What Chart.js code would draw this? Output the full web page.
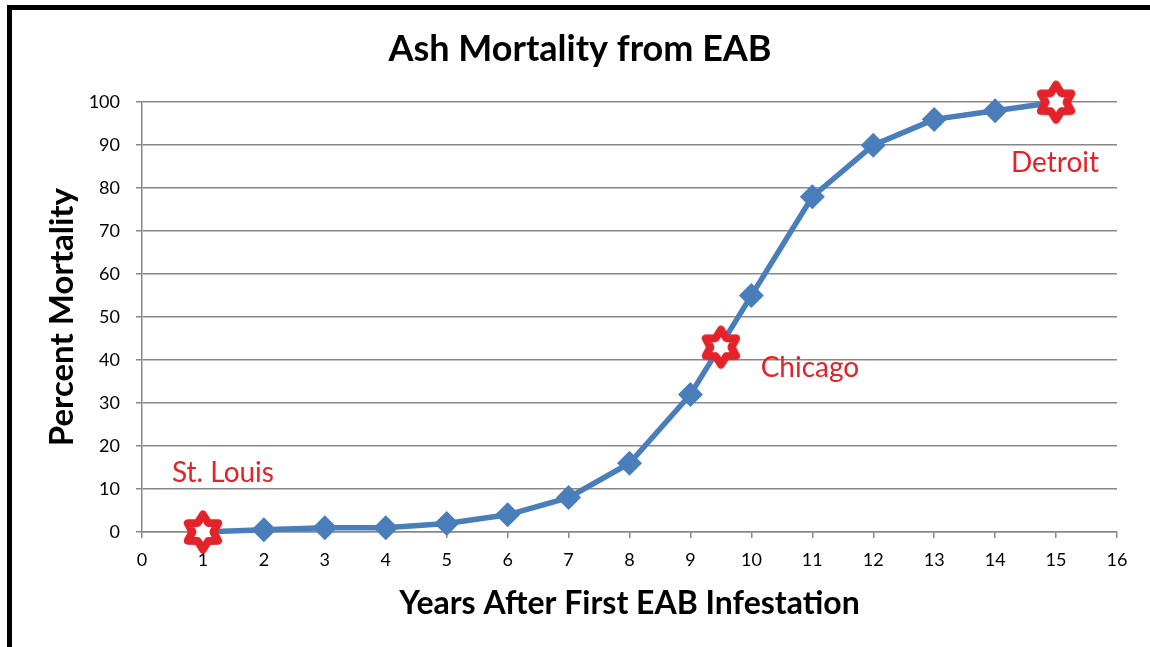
<!DOCTYPE html>
<html>
<head>
<meta charset="utf-8">
<script src="https://cdn.jsdelivr.net/npm/chart.js@4.4.1/dist/chart.umd.min.js"></script>
<style>
  html, body { margin: 0; padding: 0; background: #fff; }
  #wrap { position: relative; width: 1150px; height: 647px; overflow: hidden; }
  #frame { position: absolute; left: 7px; top: 5px; width: 1200px; height: 700px;
           border-left: 5px solid #000; border-top: 5px solid #000; }
  canvas { position: absolute; left: 0; top: 0; }
</style>
</head>
<body>
<div id="wrap">
  <div id="frame"></div>
  <canvas id="chart" width="1150" height="647"></canvas>
</div>
<script>
// years after infestation and mortality
const years = [1, 2, 3, 4, 5, 6, 7, 8, 9, 10, 11, 12, 13, 14, 15];
const mortality = [0, 0.5, 1, 1, 2, 4, 8, 16, 32, 55, 78, 90, 96, 98, 100];

// city markers
const cities = ["St. Louis", "Chicago", "Detroit"];
const cityYears = [1, 9.5, 15];
const cityMortality = [0, 43, 100];

const blue = "#4A7EBB";
const red = "#E32329";
const fontFam = "Lato, 'Open Sans', sans-serif";

// six pointed star marker, white inside
function makeStar() {
  var c = document.createElement("canvas");
  c.width = 50; c.height = 50;
  var g = c.getContext("2d");
  var cx = 25, cy = 25, ro = 17.5, ri = 10.5;
  g.beginPath();
  for (var i = 0; i < 12; i++) {
    var r = i % 2 === 0 ? ro : ri;
    var a = -Math.PI / 2 + i * Math.PI / 6;
    var px = cx + r * Math.cos(a), py = cy + r * Math.sin(a);
    if (i === 0) g.moveTo(px, py); else g.lineTo(px, py);
  }
  g.closePath();
  g.fillStyle = "#fff";
  g.fill();
  g.lineWidth = 8;
  g.lineJoin = "round";
  g.strokeStyle = red;
  g.stroke();
  return c;
}
const starImg = makeStar();

// labels next to the city stars
const labelOffsets = [[20, -59], [89, 21], [-1, 61]];
const cityLabels = {
  id: "cityLabels",
  afterDatasetsDraw(chart) {
    const ctx = chart.ctx;
    const xs = chart.scales.x, ys = chart.scales.y;
    ctx.save();
    ctx.fillStyle = red;
    ctx.font = "28px " + fontFam;
    ctx.textAlign = "center";
    ctx.textBaseline = "middle";
    cities.forEach(function (name, i) {
      const px = xs.getPixelForValue(cityYears[i]);
      const py = ys.getPixelForValue(cityMortality[i]);
      ctx.fillText(name, px + labelOffsets[i][0], py + labelOffsets[i][1]);
    });
    ctx.restore();
  }
};

new Chart(document.getElementById("chart"), {
  type: "scatter",
  data: {
    datasets: [
      {
        data: cityYears.map((x, i) => ({ x: x, y: cityMortality[i] })),
        pointStyle: starImg,
        pointRadius: 21,
        showLine: false,
        clip: false,
        order: 0
      },
      {
        data: years.map((x, i) => ({ x: x, y: mortality[i] })),
        showLine: true,
        borderColor: blue,
        borderWidth: 5.5,
        backgroundColor: blue,
        pointStyle: "rectRot",
        pointRadius: 12.5,
        pointBorderWidth: 0,
        tension: 0,
        clip: false,
        order: 1
      }
    ]
  },
  options: {
    responsive: false,
    animation: false,
    layout: { padding: { left: 43, right: 33, top: 0, bottom: 24 } },
    plugins: {
      legend: { display: false },
      tooltip: { enabled: false },
      title: {
        display: true,
        text: "Ash Mortality from EAB",
        color: "#000",
        font: { family: fontFam, size: 36, weight: "bold" },
        padding: { top: 28, bottom: 31 }
      }
    },
    scales: {
      x: {
        type: "linear",
        min: 0, max: 16,
        ticks: { stepSize: 1, color: "#000", font: { family: fontFam, size: 18 }, padding: 11 },
        grid: { drawOnChartArea: false, drawTicks: true, tickLength: 6, color: "#888", lineWidth: 1.5 },
        border: { color: "#888", width: 1.5 },
        title: {
          display: true,
          text: "Years After First EAB Infestation",
          color: "#000",
          font: { family: fontFam, size: 32, weight: "bold" },
          padding: { top: 3, bottom: 0 }
        }
      },
      y: {
        min: 0, max: 100,
        ticks: { stepSize: 10, color: "#000", font: { family: fontFam, size: 18 }, padding: 16 },
        grid: { color: "#888", lineWidth: 1.5, tickLength: 6 },
        border: { color: "#888", width: 1.5 },
        title: {
          display: true,
          text: "Percent Mortality",
          color: "#000",
          font: { family: fontFam, size: 33, weight: "bold" },
          padding: { top: 0, bottom: 10 }
        },
        afterFit(scale) { scale.width = 99; }
      }
    }
  },
  plugins: [cityLabels]
});
</script>
</body>
</html>
